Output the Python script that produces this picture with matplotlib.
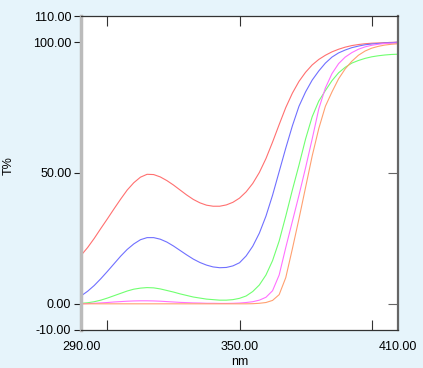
# -*- coding: utf-8 -*-
# Transmittance spectra, T% vs wavelength

import matplotlib
matplotlib.use("Agg")
import matplotlib.pyplot as plt
from matplotlib.ticker import FixedLocator

# wavelengths (nm), 2.5 nm steps from 290 to 410
wl = [290 + 2.5 * i for i in range(49)]

t_red = [18.5, 21.5, 25, 28.8, 32.5, 36.3, 40, 43.5, 46.3, 48.4,
         49.5, 49.4, 48.5, 47.1, 45.4, 43.5, 41.6, 39.9, 38.6, 37.7,
         37.3, 37.3, 37.8, 38.8, 40.4, 42.8, 46, 50.2, 55.5, 61.8,
         68.5, 75, 80.5, 85, 88.5, 91.3, 93.4, 95, 96.3, 97.3,
         98.1, 98.7, 99.1, 99.4, 99.6, 99.7, 99.8, 99.9, 100]
t_blue = [3, 4.8, 7, 9.6, 12.4, 15.3, 18.2, 20.8, 22.9, 24.5,
          25.3, 25.3, 24.7, 23.6, 22.1, 20.4, 18.7, 17.1, 15.8, 14.8,
          14.1, 13.8, 13.9, 14.5, 15.7, 18.3, 22, 27, 33.5, 41.5,
          50.5, 59.5, 68, 75.5, 81, 85.5, 89, 92, 94.3, 95.9,
          97, 97.9, 98.5, 99, 99.3, 99.5, 99.7, 99.8, 100]
t_green = [0.2, 0.4, 0.8, 1.4, 2.2, 3.1, 4, 4.9, 5.6, 6.0,
           6.2, 6.1, 5.7, 5.1, 4.5, 3.8, 3.2, 2.6, 2.2, 1.8,
           1.6, 1.4, 1.4, 1.6, 2.1, 3, 4.7, 7.2, 11, 16.5,
           24, 33.5, 43.5, 53, 63, 71.5, 77.5, 81.5, 85.3, 88.3,
           90.4, 92, 93, 93.8, 94.4, 94.8, 95.1, 95.3, 95.4]
t_magenta = [0, 0.1, 0.2, 0.35, 0.5, 0.7, 0.85, 1.0, 1.1, 1.15,
             1.15, 1.1, 1.0, 0.85, 0.7, 0.55, 0.45, 0.35, 0.3, 0.2,
             0.2, 0.15, 0.15, 0.2, 0.3, 0.5, 0.8, 1.4, 2.5, 5,
             11, 21.5, 31.5, 41.5, 52, 63, 74.5, 82.5, 88, 91.8,
             94.3, 96, 97.3, 98.2, 98.8, 99.2, 99.5, 99.6, 99.7]
t_orange = [0, 0, 0, 0, 0, 0, 0, 0, 0, 0,
            0, 0, 0, 0, 0, 0, 0, 0, 0, 0,
            0, 0, 0, 0, 0, 0, 0.05, 0.2, 0.5, 1.3,
            3.5, 10, 21, 32.5, 44.5, 56.5, 67, 75.5, 81, 86,
            89.8, 92.7, 95, 96.6, 97.7, 98.4, 98.9, 99.2, 99.4]

series = [(t_red, "#ff7070"), (t_blue, "#7070ff"), (t_green, "#70ff70"),
          (t_magenta, "#ff70ff"), (t_orange, "#ffa070")]

x_labels = [290, 350, 410]
x_minor = [300, 350, 400]
y_labels = [-10, 0, 50, 100, 110]
y_right = [0, 50, 100]

bg = "#e6f4fb"
fig = plt.figure(figsize=(4.23, 3.68), dpi=100, facecolor=bg)
ax = fig.add_axes([0.1915, 0.1033, 0.941 - 0.1915, 0.9565 - 0.1033])
ax.set_facecolor("white")

for vals, col in series:
    ax.plot(wl, vals, color=col, lw=0.8)

ax.set_xlim(290, 410)
ax.set_ylim(-10, 110)

font = {"family": "Liberation Sans", "size": 9}
ax.set_xticks(x_labels)
ax.set_xticklabels(["%.2f" % v for v in x_labels], fontdict=font)
ax.set_yticks(y_labels)
ax.set_yticklabels(["%.2f" % v for v in y_labels], fontdict=font)
ax.xaxis.remove_overlapping_locs = False
ax.yaxis.remove_overlapping_locs = False
ax.xaxis.set_minor_locator(FixedLocator(x_minor))
ax.yaxis.set_minor_locator(FixedLocator(y_right))

ax.tick_params(axis="x", which="major", length=0, pad=8)
ax.tick_params(axis="x", which="minor", direction="in", length=7,
               top=True, bottom=True, color="#333333", width=0.8)
ax.tick_params(axis="y", which="major", direction="out", length=5,
               left=True, right=False, color="#222222", width=0.8, pad=2)
ax.tick_params(axis="y", which="minor", direction="in", length=7,
               left=False, right=True, color="#666666", width=0.8)

ax.spines["left"].set_color("#bbbbbb")
ax.spines["left"].set_linewidth(2.5)
ax.spines["right"].set_color("#666666")
ax.spines["right"].set_linewidth(1.6)
ax.spines["top"].set_color("#333333")
ax.spines["top"].set_linewidth(0.9)
ax.spines["bottom"].set_color("#333333")
ax.spines["bottom"].set_linewidth(0.9)

ax.set_xlabel("nm", fontdict=font, labelpad=2)
fig.text(9 / 423, 1 - 166 / 368, "T%", rotation=90, ha="center", va="center",
         family="Liberation Sans", size=9)

plt.savefig("out.png", dpi=100, facecolor=bg)
